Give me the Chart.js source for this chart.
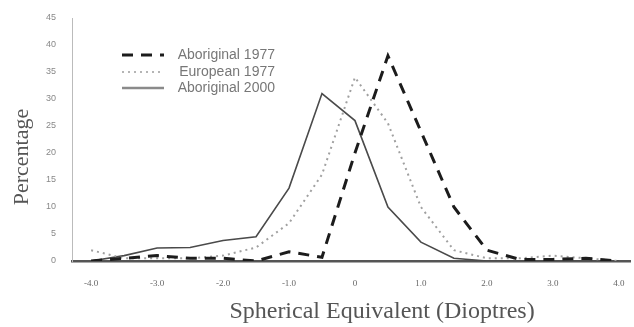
<!DOCTYPE html>
<html>
<head>
<meta charset="utf-8">
<script src="https://cdn.jsdelivr.net/npm/chart.js@4/dist/chart.umd.min.js"></script>
<style>
html,body{margin:0;padding:0;background:#fff;}
#wrap{position:relative;width:634px;height:327px;}
</style>
</head>
<body>
<div id="wrap"><canvas id="c" width="634" height="327"></canvas></div>
<script>
// Spherical equivalent (dioptres), half-dioptre steps
const refraction = [-4.0,-3.5,-3.0,-2.5,-2.0,-1.5,-1.0,-0.5,0,0.5,1.0,1.5,2.0,2.5,3.0,3.5,4.0];
// Percentage per group
const aboriginal1977 = [0,0.5,1.0,0.5,0.5,0,1.7,0.7,20,38,24,10,2,0.3,0.3,0.5,0];
const european1977   = [2,0.5,0.5,0.5,1.0,2.5,7,16,34,25.5,10,2,0.5,0.5,1.0,0.5,0];
const aboriginal2000 = [0,1.0,2.4,2.5,3.8,4.5,13.5,31,26,10,3.5,0.5,0,0,0,0,0];
const xTicks = [-4,-3,-2,-1,0,1,2,3,4];
const yTicks = [0,5,10,15,20,25,30,35,40,45];
const seriesNames = ['Aboriginal 1977','European 1977','Aboriginal 2000'];

const toPts = arr => refraction.map((x,i)=>({x:x,y:arr[i]}));

const styles = [
  {borderColor:'#1c1c1c', borderWidth:3, borderDash:[11,8]},
  {borderColor:'#a0a0a0', borderWidth:2, borderDash:[2,4]},
  {borderColor:'#4a4a4a', borderWidth:1.6, borderDash:[]}
];

const textPlugin = {
  id:'texts',
  afterDraw(chart){
    const ctx = chart.ctx;
    ctx.save();
    ctx.fillStyle = '#555';
    ctx.font = '22px "Liberation Serif", serif';
    ctx.textAlign = 'center';
    ctx.textBaseline = 'middle';
    ctx.translate(22,157);
    ctx.rotate(-Math.PI/2);
    ctx.fillText('Percentage',0,0);
    ctx.restore();
    ctx.save();
    ctx.fillStyle = '#555';
    ctx.font = '24px "Liberation Serif", serif';
    ctx.textAlign = 'center';
    ctx.textBaseline = 'middle';
    ctx.fillText('Spherical Equivalent (Dioptres)',382,312);
    const ys = [55,72,88];
    ctx.font = '14px "Liberation Sans", sans-serif';
    ctx.textAlign = 'right';
    for(let i=0;i<3;i++){
      const s = styles[i];
      ctx.beginPath();
      ctx.setLineDash(s.borderDash);
      ctx.lineWidth = i===2 ? 2.5 : s.borderWidth;
      ctx.strokeStyle = i===2 ? '#8a8a8a' : (i===1 ? '#b5b5b5' : s.borderColor);
      ctx.moveTo(122,ys[i]);
      ctx.lineTo(164,ys[i]);
      ctx.stroke();
      ctx.setLineDash([]);
      ctx.fillStyle = '#777';
      ctx.fillText(seriesNames[i],275,ys[i]);
    }
    ctx.restore();
  }
};

new Chart(document.getElementById('c'),{
  type:'line',
  data:{
    datasets:[aboriginal1977,european1977,aboriginal2000].map((arr,i)=>Object.assign({
      label:seriesNames[i],
      data:toPts(arr),
      pointRadius:0,
      tension:0,
      fill:false
    },styles[i]))
  },
  options:{
    responsive:false,
    animation:false,
    layout:{padding:{top:18,right:4,left:0,bottom:0}},
    plugins:{legend:{display:false},tooltip:{enabled:false}},
    scales:{
      x:{
        type:'linear',
        min:-4.29, max:4.17,
        afterBuildTicks(s){ s.ticks = xTicks.map(v=>({value:v})); },
        afterFit(s){ s.height = 66; s.paddingLeft = 0; s.paddingRight = 0; },
        grid:{display:false},
        border:{display:true,color:'#555',width:2.5},
        ticks:{
          padding:9,
          color:'#666',
          font:{family:'"Liberation Serif", serif',size:9},
          maxRotation:0,
          callback:v=> v===0 ? '0' : Number(v).toFixed(1)
        }
      },
      y:{
        min:0,max:45,
        afterBuildTicks(s){ s.ticks = yTicks.map(v=>({value:v})); },
        afterFit(s){ s.width = 72; },
        grid:{display:false},
        border:{display:true,color:'#bbb',width:1},
        ticks:{
          padding:8,
          color:'#888',
          font:{family:'"Liberation Sans", sans-serif',size:9}
        }
      }
    }
  },
  plugins:[textPlugin]
});
</script>
</body>
</html>
